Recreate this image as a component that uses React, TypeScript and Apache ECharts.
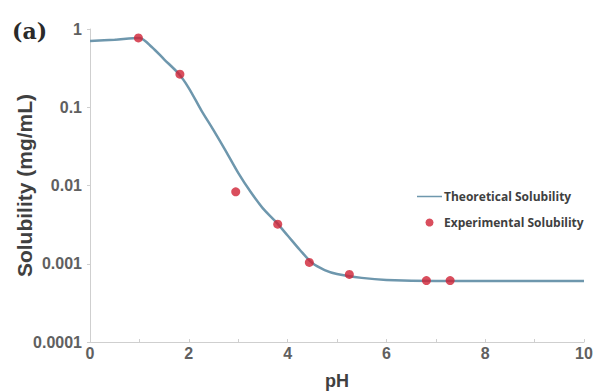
import React, { useEffect, useRef } from "react";
import * as echarts from "echarts";

const theoPH = [0, 0.5, 1, 1.25, 1.5, 1.8, 2, 2.25, 2.5, 2.75, 3, 3.25, 3.5, 3.75, 4, 4.25, 4.5, 4.75, 5, 5.5, 6, 7, 8, 9, 10];
const theoSol = [0.7, 0.73, 0.77, 0.59, 0.41, 0.266, 0.176, 0.092, 0.051, 0.0275, 0.0145, 0.0083, 0.0051, 0.0035, 0.0023, 0.0015, 0.00102, 0.00083, 0.00074, 0.00066, 0.00062, 0.0006, 0.0006, 0.0006, 0.0006];

const expPH = [0.98, 1.82, 2.95, 3.8, 4.44, 5.25, 6.81, 7.29];
const expSol = [0.77, 0.265, 0.0083, 0.0032, 0.00104, 0.00073, 0.00061, 0.00061];

const yTickLabels = ["0.0001", "0.001", "0.01", "0.1", "1"];

export default function App() {
  const ref = useRef<HTMLDivElement>(null);
  useEffect(() => {
    if (!ref.current) return;
    const chart = echarts.init(ref.current, undefined, { renderer: "svg" });
    chart.setOption({
      animation: false,
      backgroundColor: "#ffffff",
      grid: { left: 90, right: 11, top: 29, bottom: 50, containLabel: false, outerBoundsMode: "none" },
      graphic: [
        {
          type: "text",
          left: 12,
          top: 20,
          style: { text: "(a)", fontSize: 22, fontFamily: "'DejaVu Serif', serif", fontWeight: "bold", fill: "#2a2a2a" },
        },
      ],
      legend: {
        orient: "vertical",
        left: 417,
        top: 189,
        padding: 0,
        itemWidth: 25,
        itemHeight: 8,
        itemGap: 11,
        textStyle: { fontFamily: "'Open Sans', sans-serif", fontSize: 12, fontWeight: "bold", color: "#404040", lineHeight: 15, padding: [0, 0, 0, -3] },
        data: [
          { name: "Theoretical Solubility", icon: "path://M0,0 L0.01,0 L0,0 Z M0,3.2 L25,3.2 L25,4.8 L0,4.8 Z M0,8 L0.01,8 L0,8 Z" },
          { name: "Experimental Solubility", icon: "circle" },
        ],
      },
      xAxis: {
        type: "value",
        min: 0,
        max: 10,
        interval: 2,
        name: "pH",
        nameLocation: "middle",
        nameGap: 30,
        nameMoveOverlap: false,
        nameTextStyle: { fontFamily: "'Liberation Sans', Arial, sans-serif", fontSize: 18, fontWeight: "bold", color: "#404040" },
        axisLine: { show: true, lineStyle: { color: "#cfcfcf", width: 1 } },
        axisTick: { show: true, inside: true, length: 3, lineStyle: { color: "#cfcfcf" } },
        minorTick: { show: true, splitNumber: 2, length: 3, lineStyle: { color: "#cfcfcf" } },
        splitLine: { show: false },
        axisLabel: { margin: 3, fontFamily: "'Liberation Sans', Arial, sans-serif", fontSize: 16, fontWeight: "bold", color: "#606060" },
      },
      yAxis: {
        type: "log",
        logBase: 10,
        min: 0.0001,
        max: 1,
        name: "Solubility (mg/mL)",
        nameLocation: "middle",
        nameGap: 55,
        nameMoveOverlap: false,
        nameRotate: 90,
        nameTextStyle: { fontFamily: "'Liberation Sans', Arial, sans-serif", fontSize: 21, fontWeight: "bold", color: "#404040" },
        axisLine: { show: true, lineStyle: { color: "#cfcfcf", width: 1 } },
        axisTick: { show: true, length: 3, lineStyle: { color: "#cfcfcf" } },
        splitLine: { show: false },
        axisLabel: {
          margin: 8,
          fontFamily: "'Liberation Sans', Arial, sans-serif",
          fontSize: 16,
          fontWeight: "bold",
          color: "#606060",
          formatter: (v: number) => {
            const e = Math.round(Math.log10(v));
            return yTickLabels[e + 4] ?? String(v);
          },
        },
      },
      series: [
        {
          name: "Theoretical Solubility",
          type: "line",
          data: theoPH.map((x, i) => [x, theoSol[i]]),
          smooth: 0.3,
          symbol: "none",
          lineStyle: { color: "#6e97ad", width: 2.5 },
          itemStyle: { color: "#6e97ad" },
          z: 2,
        },
        {
          name: "Experimental Solubility",
          type: "scatter",
          data: expPH.map((x, i) => [x, expSol[i]]),
          symbol: "circle",
          symbolSize: 9,
          itemStyle: { color: "#cf2235" },
          z: 3,
        },
      ],
    });
    return () => chart.dispose();
  }, []);
  return <div ref={ref} style={{ width: 595, height: 392, position: "absolute", left: 0, top: 0 }} />;
}
